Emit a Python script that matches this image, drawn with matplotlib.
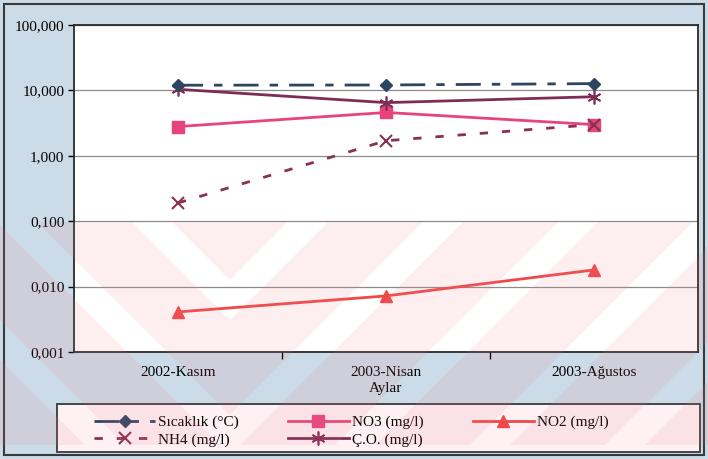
import numpy as np
import matplotlib
matplotlib.use("Agg")
import matplotlib.pyplot as plt
from matplotlib.patches import Polygon, Rectangle
from matplotlib.ticker import FixedLocator, FuncFormatter

plt.rcParams['font.family'] = ['Liberation Serif', 'DejaVu Serif']

# aylara gore olcum degerleri
aylar = ['2002-Kasım', '2003-Nisan', '2003-Ağustos']
sicaklik = [12.0, 12.1, 12.7]
no3 = [2.8, 4.6, 3.0]
no2 = [0.0041, 0.0072, 0.018]
nh4 = [0.19, 1.7, 3.0]
co = [10.4, 6.5, 8.0]

fig = plt.figure(figsize=(7.08, 4.59), dpi=100)
fig.patch.set_facecolor('#cbdbe7')

ax = fig.add_axes([74 / 708, 1 - 352 / 459, 624 / 708, 327 / 459])
ax.set_facecolor('white')
x = np.arange(len(aylar))

l_sic, = ax.plot(x, sicaklik, color='#2c4560', lw=2, dashes=(9, 4, 3, 4),
                 marker='D', ms=6, label='Sıcaklık (°C)', zorder=5)
l_no3, = ax.plot(x, no3, color='#e8447c', lw=2, marker='s', ms=8,
                 label='NO3 (mg/l)', zorder=4)
l_no2, = ax.plot(x, no2, color='#f04848', lw=2, marker='^', ms=8,
                 label='NO2 (mg/l)', zorder=4)
l_nh4, = ax.plot(x, nh4, color='#8a3050', lw=2, dashes=(3, 5), marker='x', ms=8,
                 mew=1.5, label='NH4 (mg/l)', zorder=4)
l_co, = ax.plot(x, co, color='#7d2d55', lw=2, marker=(6, 2, 0), ms=10,
                mew=1.2, label='Ç.O. (mg/l)', zorder=4)

ax.set_yscale('log')
ax.set_ylim(0.001, 100)
ax.set_xlim(-0.5, 2.5)
ax.yaxis.set_major_locator(FixedLocator([0.001, 0.01, 0.1, 1, 10, 100]))
ax.yaxis.set_minor_locator(FixedLocator([]))
ax.yaxis.set_major_formatter(FuncFormatter(lambda v, p: f'{v:.3f}'.replace('.', ',')))
ax.grid(axis='y', color='#8c8c8c', lw=0.9)
ax.tick_params(axis='y', labelsize=11, length=4, width=1, pad=3)

ax.set_xticks(x)
ax.set_xticklabels(aylar, fontsize=11)
ax.set_xticks([0.5, 1.5], minor=True)
ax.tick_params(axis='x', which='major', length=0, pad=10)
ax.tick_params(axis='x', which='minor', length=5, width=1)
ax.set_xlabel('Aylar', fontsize=11, labelpad=2)
for s in ax.spines.values():
    s.set_color('#2a2a2a')
    s.set_linewidth(1.3)

# lejant kutusu ve lejant
fig.add_artist(Rectangle((57 / 708, 7 / 459), 643 / 708, 48 / 459, transform=fig.transFigure,
                         facecolor='#fdf1f3', edgecolor='#3a3a3a', lw=1.3))
handles = [l_sic, l_nh4, l_no3, l_co, l_no2]
leg = fig.legend(handles=handles, labels=[hd.get_label() for hd in handles],
                 loc='center left', bbox_to_anchor=(88 / 708, 28 / 459),
                 ncol=3, fontsize=11, frameon=False,
                 handlelength=4, labelspacing=0.25, handletextpad=0.2,
                 columnspacing=3.2, borderaxespad=0)

# dis cerceve
fig.add_artist(Rectangle((4 / 708, 4 / 459), 700 / 708, 451 / 459, transform=fig.transFigure,
                         fill=False, edgecolor='#3a3a3a', lw=1.5))

# filigran seritleri
ov = fig.add_axes([0, 0, 1, 1], zorder=10)
ov.set_xlim(0, 708)
ov.set_ylim(459, 0)
ov.axis('off')
y0, y1 = 222, 445
h = y1 - y0
apex = 230
left = Rectangle((0, y0), apex, h, transform=ov.transData)
right = Rectangle((apex, y0), 708 - apex, h, transform=ov.transData)
for xs in range(apex - 260, 760, 135):
    p = Polygon([(xs, y1), (xs + 95, y1), (xs + 95 + h, y0), (xs + h, y0)],
                closed=True, facecolor='#f07a8a', alpha=0.12, lw=0)
    ov.add_patch(p)
    p.set_clip_path(right)
for xs in range(apex + 260, -300, -135):
    p = Polygon([(xs, y1), (xs - 95, y1), (xs - 95 - h, y0), (xs - h, y0)],
                closed=True, facecolor='#f07a8a', alpha=0.12, lw=0)
    ov.add_patch(p)
    p.set_clip_path(left)

fig.savefig('out.png', dpi=100, facecolor=fig.get_facecolor())
